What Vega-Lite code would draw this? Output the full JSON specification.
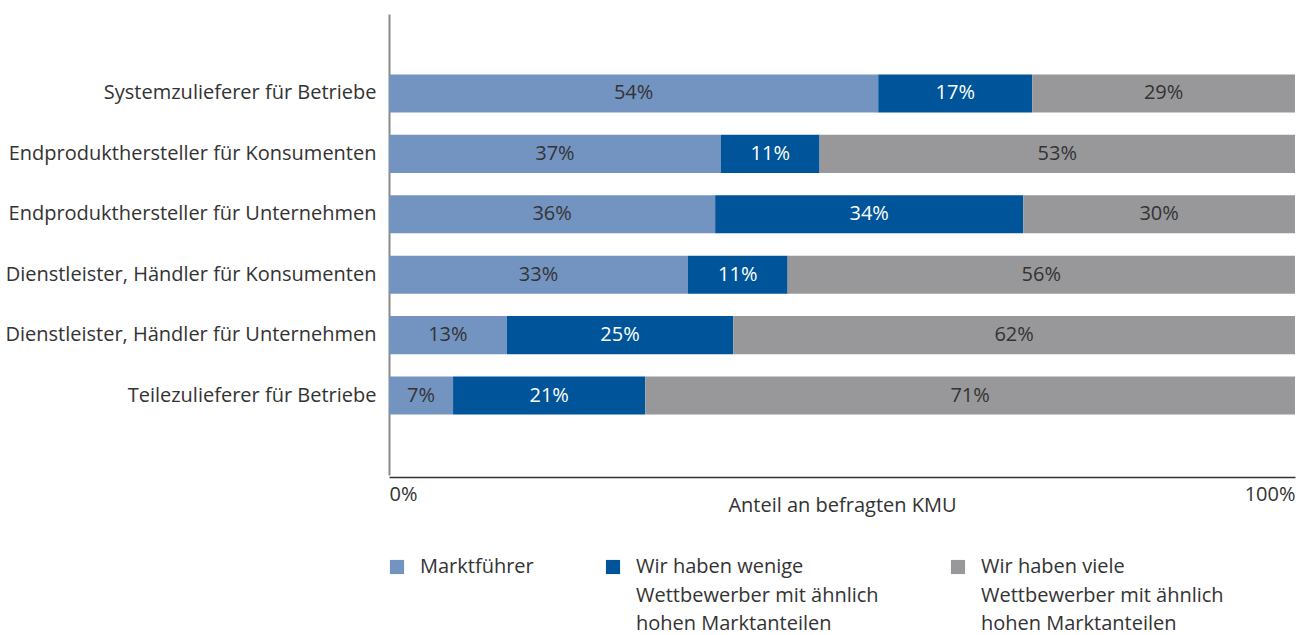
{
  "$schema": "https://vega.github.io/schema/vega-lite/v6.json",
  "width": 906,
  "height": 467,
  "autosize": {"type": "none"},
  "padding": {"left": 389, "top": 10, "right": 20, "bottom": 158},
  "background": "white",
  "config": {
    "view": {"stroke": null},
    "font": "Open Sans",
    "style": {"guide-label": {"lineHeight": 28.5}}
  },
  "data": {
    "values": [
      {"cat": "Systemzulieferer für Betriebe", "serie": "Marktführer||", "rank": 1, "v": 54, "lbl": "54%"},
      {"cat": "Systemzulieferer für Betriebe", "serie": "Wir haben wenige|Wettbewerber mit ähnlich|hohen Marktanteilen", "rank": 2, "v": 17, "lbl": "17%"},
      {"cat": "Systemzulieferer für Betriebe", "serie": "Wir haben viele|Wettbewerber mit ähnlich|hohen Marktanteilen", "rank": 3, "v": 29, "lbl": "29%"},
      {"cat": "Endprodukthersteller für Konsumenten", "serie": "Marktführer||", "rank": 1, "v": 37, "lbl": "37%"},
      {"cat": "Endprodukthersteller für Konsumenten", "serie": "Wir haben wenige|Wettbewerber mit ähnlich|hohen Marktanteilen", "rank": 2, "v": 11, "lbl": "11%"},
      {"cat": "Endprodukthersteller für Konsumenten", "serie": "Wir haben viele|Wettbewerber mit ähnlich|hohen Marktanteilen", "rank": 3, "v": 53, "lbl": "53%"},
      {"cat": "Endprodukthersteller für Unternehmen", "serie": "Marktführer||", "rank": 1, "v": 36, "lbl": "36%"},
      {"cat": "Endprodukthersteller für Unternehmen", "serie": "Wir haben wenige|Wettbewerber mit ähnlich|hohen Marktanteilen", "rank": 2, "v": 34, "lbl": "34%"},
      {"cat": "Endprodukthersteller für Unternehmen", "serie": "Wir haben viele|Wettbewerber mit ähnlich|hohen Marktanteilen", "rank": 3, "v": 30, "lbl": "30%"},
      {"cat": "Dienstleister, Händler für Konsumenten", "serie": "Marktführer||", "rank": 1, "v": 33, "lbl": "33%"},
      {"cat": "Dienstleister, Händler für Konsumenten", "serie": "Wir haben wenige|Wettbewerber mit ähnlich|hohen Marktanteilen", "rank": 2, "v": 11, "lbl": "11%"},
      {"cat": "Dienstleister, Händler für Konsumenten", "serie": "Wir haben viele|Wettbewerber mit ähnlich|hohen Marktanteilen", "rank": 3, "v": 56, "lbl": "56%"},
      {"cat": "Dienstleister, Händler für Unternehmen", "serie": "Marktführer||", "rank": 1, "v": 13, "lbl": "13%"},
      {"cat": "Dienstleister, Händler für Unternehmen", "serie": "Wir haben wenige|Wettbewerber mit ähnlich|hohen Marktanteilen", "rank": 2, "v": 25, "lbl": "25%"},
      {"cat": "Dienstleister, Händler für Unternehmen", "serie": "Wir haben viele|Wettbewerber mit ähnlich|hohen Marktanteilen", "rank": 3, "v": 62, "lbl": "62%"},
      {"cat": "Teilezulieferer für Betriebe", "serie": "Marktführer||", "rank": 1, "v": 7, "lbl": "7%"},
      {"cat": "Teilezulieferer für Betriebe", "serie": "Wir haben wenige|Wettbewerber mit ähnlich|hohen Marktanteilen", "rank": 2, "v": 21, "lbl": "21%"},
      {"cat": "Teilezulieferer für Betriebe", "serie": "Wir haben viele|Wettbewerber mit ähnlich|hohen Marktanteilen", "rank": 3, "v": 71, "lbl": "71%"}
    ]
  },
  "encoding": {
    "y": {
      "field": "cat",
      "type": "nominal",
      "sort": null,
      "scale": {"paddingInner": 0.37, "paddingOuter": 1, "range": [4, 465]},
      "axis": {
        "title": null,
        "ticks": false,
        "labelPadding": 13,
        "labelFontSize": 20,
        "labelColor": "#333333",
        "labelLimit": 400,
        "domainColor": "#8a8a8a",
        "domainWidth": 2
      }
    },
    "x": {
      "field": "v",
      "type": "quantitative",
      "stack": "normalize",
      "scale": {"domain": [0, 1]},
      "axis": {
        "title": "Anteil an befragten KMU",
        "values": [0, 1],
        "format": "%",
        "ticks": false,
        "grid": false,
        "labelFlush": true,
        "labelPadding": 7,
        "labelFontSize": 20,
        "labelColor": "#333333",
        "titleFontSize": 20,
        "titleFontWeight": "normal",
        "titleColor": "#333333",
        "titlePadding": -9,
        "domainColor": "#333333",
        "domainWidth": 1.5
      }
    },
    "order": {"field": "rank", "type": "quantitative"}
  },
  "layer": [
    {
      "mark": {"type": "bar"},
      "encoding": {
        "color": {
          "field": "serie",
          "type": "nominal",
          "sort": null,
          "scale": {
            "domain": ["Marktführer||", "Wir haben wenige|Wettbewerber mit ähnlich|hohen Marktanteilen", "Wir haben viele|Wettbewerber mit ähnlich|hohen Marktanteilen"],
            "range": ["#7394c1", "#00559a", "#98989b"]
          },
          "legend": {
            "title": null,
            "orient": "none",
            "legendX": -2,
            "legendY": 547,
            "direction": "horizontal",
            "columns": 3,
            "columnPadding": 69,
            "symbolType": "square",
            "symbolSize": 200,
            "symbolStrokeWidth": 0,
            "labelFontSize": 20,
            "labelColor": "#333333",
            "labelOffset": 13,
            "labelLimit": 400,
            "labelBaseline": "middle",
            "labelExpr": "split(datum.label, '|')"
          }
        }
      }
    },
    {
      "mark": {"type": "text", "fontSize": 20},
      "encoding": {
        "x": {"field": "v", "type": "quantitative", "stack": "normalize", "bandPosition": 0.5},
        "text": {"field": "lbl", "type": "nominal"},
        "color": {
          "condition": {"test": "datum.rank == 2", "value": "white"},
          "value": "#333333"
        }
      }
    }
  ]
}
